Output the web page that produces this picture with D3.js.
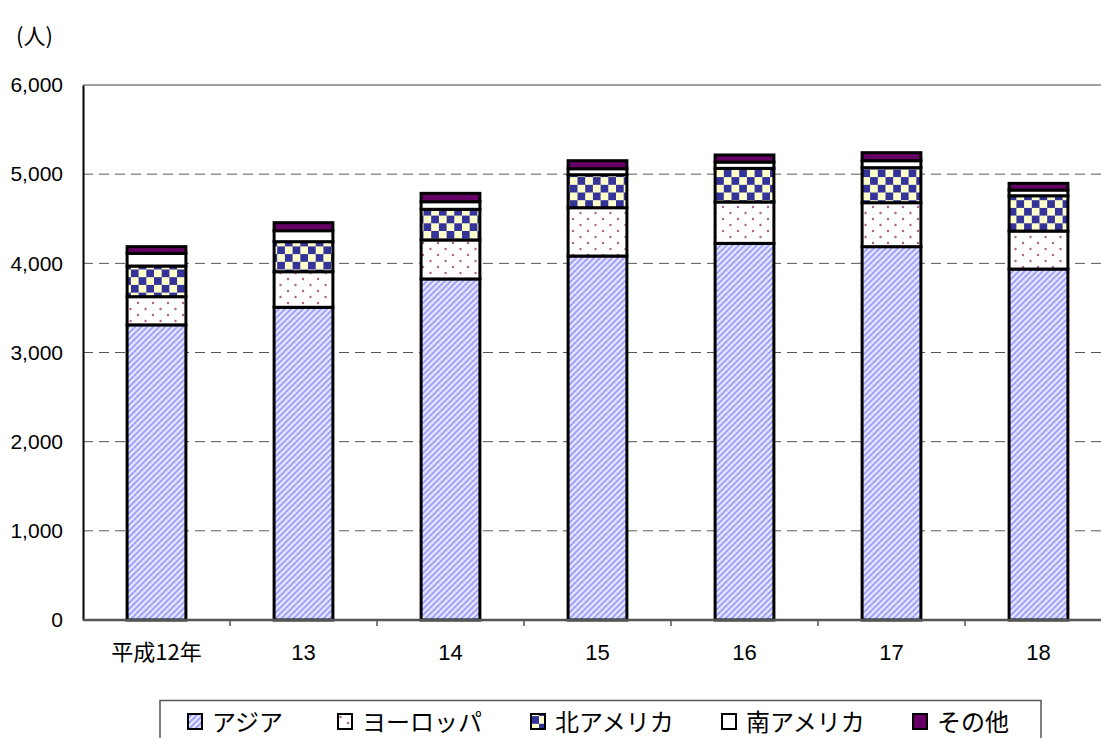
<!DOCTYPE html>
<html><head><meta charset="utf-8">
<script src="https://cdn.jsdelivr.net/npm/d3@7"></script>
<style>
body{margin:0;background:#fff;}
text{font-family:"Liberation Sans",Arial,sans-serif;}
.jp{font-family:"Noto Sans CJK JP","Liberation Sans",sans-serif;}
</style></head>
<body>
<svg id="chart" width="1101" height="738"></svg>
<script>
const categories = ["平成12年","13","14","15","16","17","18"];
const seriesNames = ["アジア","ヨーロッパ","北アメリカ","南アメリカ","その他"];
const asia     = [3310, 3507, 3825, 4082, 4224, 4187, 3936];
const europe   = [316, 399, 437, 542, 464, 493, 426];
const nAmerica = [344, 337, 344, 370, 377, 393, 396];
const sAmerica = [142, 123, 85, 67, 71, 78, 64];
const others   = [75, 90, 94, 90, 79, 90, 75];
const yTicks = [0,1000,2000,3000,4000,5000,6000];

(function(){
const svg = d3.select("#chart");
const defs = svg.append("defs");

const pA = defs.append("pattern").attr("id","pAsia").attr("patternUnits","userSpaceOnUse")
  .attr("width",6).attr("height",6);
pA.append("rect").attr("width",6).attr("height",6).attr("fill","#e8e8ff");
pA.append("path").attr("d","M-1.5,1.5 l3,-3 M0,6 l6,-6 M4.5,7.5 l3,-3").attr("stroke","#a4a4ff").attr("stroke-width",2.2);

const pE = defs.append("pattern").attr("id","pEur").attr("patternUnits","userSpaceOnUse")
  .attr("width",15).attr("height",12);
pE.append("rect").attr("width",15).attr("height",12).attr("fill","#ffffff");
[[3,3],[10.5,9]].forEach(([cx,cy])=>pE.append("circle").attr("cx",cx).attr("cy",cy).attr("r",1.2).attr("fill","#b0608a"));

const pN = defs.append("pattern").attr("id","pNA").attr("patternUnits","userSpaceOnUse")
  .attr("width",15.4).attr("height",15.4);
pN.append("rect").attr("width",15.4).attr("height",15.4).attr("fill","#ffffcc");
pN.append("rect").attr("width",7.7).attr("height",7.7).attr("fill","#333399");
pN.append("rect").attr("x",7.7).attr("y",7.7).attr("width",7.7).attr("height",7.7).attr("fill","#333399");

const fills = ["url(#pAsia)","url(#pEur)","url(#pNA)","#ffffff","#660066"];

const pLeft = 83, pTop = 85, pBottom = 620;
const x = d3.scaleBand().domain(categories).range([pLeft, pLeft + 7*147]).paddingInner(0.6).paddingOuter(0.3);
const y = d3.scaleLinear().domain([0,6000]).range([pBottom, pTop]);

svg.append("g").selectAll("line").data(yTicks.filter(t=>t>0 && t<6000)).join("line")
  .attr("x1",pLeft).attr("x2",1101).attr("y1",d=>y(d)).attr("y2",d=>y(d))
  .attr("stroke","#555").attr("stroke-width",1).attr("stroke-dasharray","10,6");
svg.append("line").attr("x1",pLeft).attr("x2",1101).attr("y1",y(6000)).attr("y2",y(6000))
  .attr("stroke","#808080").attr("stroke-width",1.5);

const yAxis = d3.axisLeft(y).tickValues(yTicks).tickFormat(d3.format(",")).tickSize(0).tickPadding(20);
const gy = svg.append("g").attr("transform",`translate(${pLeft},0)`).call(yAxis);
gy.attr("font-size",null).attr("font-family",null);
gy.select(".domain").attr("stroke","#000").attr("stroke-width",2);
gy.selectAll("text").style("font-size","21px").attr("fill","#000").style("font-family","'Liberation Sans', Arial, sans-serif");

const table = categories.map((c,i)=>({cat:c, v:[asia[i],europe[i],nAmerica[i],sAmerica[i],others[i]]}));
const stack = d3.stack().keys([0,1,2,3,4]).value((d,k)=>d.v[k]);
const layers = stack(table);
const gb = svg.append("g");
layers.forEach((layer,k)=>{
  gb.append("g").selectAll("rect").data(layer).join("rect")
    .attr("x",d=>x(d.data.cat)).attr("width",x.bandwidth())
    .attr("y",d=>y(d[1])).attr("height",d=>y(d[0])-y(d[1]))
    .attr("fill",fills[k]).attr("stroke","#000").attr("stroke-width",3);
});

const xAxis = d3.axisBottom(x).tickSize(0).tickPadding(24);
const gx = svg.append("g").attr("transform",`translate(0,${pBottom})`).call(xAxis);
gx.attr("font-size",null).attr("font-family",null);
gx.select(".domain").remove();
gx.append("line").attr("x1",pLeft).attr("x2",1101).attr("stroke","#555").attr("stroke-width",2.5);
gx.selectAll("text").style("font-size","22px").attr("fill","#000")
  .style("font-family",d=>/[^\x00-\x7f]/.test(d)?"'Noto Sans CJK JP', sans-serif":"'Liberation Sans', Arial, sans-serif");
const step = x.step();
gx.append("g").selectAll("line").data(categories.slice(1)).join("line")
  .attr("x1",d=>x(d)+x.bandwidth()/2-step/2).attr("x2",d=>x(d)+x.bandwidth()/2-step/2)
  .attr("y1",0).attr("y2",6).attr("stroke","#555").attr("stroke-width",1.5);

svg.append("text").attr("class","jp").attr("x",16).attr("y",44).style("font-size","22px").text("(人)");

const lg = svg.append("g");
lg.append("rect").attr("x",160).attr("y",700.5).attr("width",881).attr("height",60)
  .attr("fill","#fff").attr("stroke","#555").attr("stroke-width",1.5);
const legX = [188, 338, 531, 722, 913];
seriesNames.forEach((n,k)=>{
  lg.append("rect").attr("x",legX[k]).attr("y",714).attr("width",14).attr("height",15)
    .attr("fill",fills[k]).attr("stroke","#000").attr("stroke-width",2);
  lg.append("text").attr("class","jp").attr("x",legX[k]+24).attr("y",731)
    .style("font-size","24px").attr("fill","#000").text(n);
});
})();
</script>
</body></html>
